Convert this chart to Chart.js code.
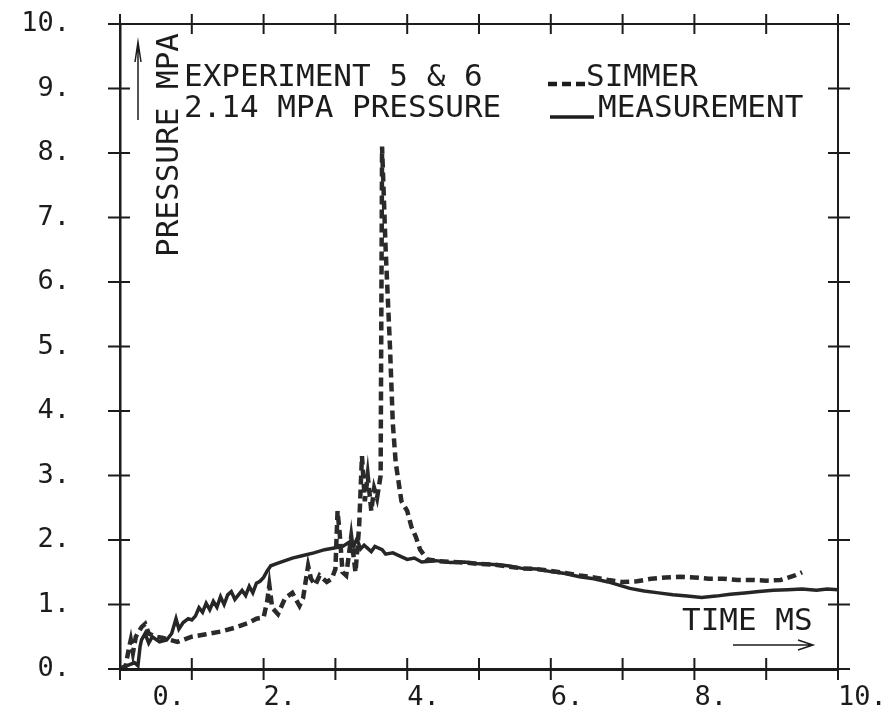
<!DOCTYPE html>
<html>
<head>
<meta charset="utf-8">
<script src="https://cdn.jsdelivr.net/npm/chart.js@4.4.0/dist/chart.umd.min.js"></script>
<style>
  html, body { margin: 0; padding: 0; background: #fff; }
  #wrap { width: 889px; height: 715px; }
</style>
</head>
<body>
<div id="wrap"><canvas id="plot" width="889" height="715"></canvas></div>
<script>
// measurement (solid)
var measTime = [0.00, 0.10, 0.20, 0.25, 0.28, 0.30, 0.35, 0.40, 0.45, 0.55, 0.65, 0.72, 0.78, 0.82, 0.88, 0.95,
  1.00, 1.05, 1.10, 1.15, 1.20, 1.25, 1.30, 1.35, 1.40, 1.45, 1.50, 1.55, 1.60, 1.70, 1.75, 1.80, 1.85, 1.90,
  1.95, 2.00, 2.05, 2.10, 2.20, 2.30, 2.40, 2.55, 2.70, 2.85, 3.00, 3.10, 3.20, 3.25, 3.30, 3.35, 3.40, 3.50,
  3.55, 3.65, 3.70, 3.80, 3.90, 4.00, 4.10, 4.20, 4.40, 4.60, 4.80, 5.00, 5.20, 5.40, 5.60, 5.80, 6.00, 6.20,
  6.40, 6.60, 6.80, 6.95, 7.10, 7.30, 7.50, 7.70, 7.90, 8.10, 8.30, 8.50, 8.70, 8.90, 9.10, 9.30, 9.50, 9.70,
  9.85, 10.0];
var measPressure = [0.00, 0.05, 0.10, 0.05, 0.35, 0.45, 0.55, 0.40, 0.50, 0.42, 0.45, 0.55, 0.78, 0.62, 0.72, 0.78,
  0.76, 0.82, 0.95, 0.88, 1.02, 0.92, 1.05, 0.96, 1.12, 1.00, 1.15, 1.20, 1.08, 1.22, 1.14, 1.28, 1.18, 1.33,
  1.36, 1.42, 1.52, 1.60, 1.64, 1.68, 1.72, 1.76, 1.80, 1.85, 1.88, 1.90, 1.97, 1.90, 2.02, 1.86, 1.92, 1.82,
  1.90, 1.85, 1.78, 1.80, 1.75, 1.70, 1.72, 1.66, 1.68, 1.65, 1.66, 1.63, 1.62, 1.60, 1.56, 1.55, 1.51, 1.48,
  1.43, 1.40, 1.35, 1.30, 1.25, 1.21, 1.18, 1.15, 1.13, 1.11, 1.13, 1.16, 1.18, 1.20, 1.22, 1.23, 1.24, 1.22,
  1.24, 1.23];

// SIMMER calculation (dashed)
var simTime = [0.00, 0.08, 0.12, 0.15, 0.18, 0.22, 0.30, 0.35, 0.40, 0.50, 0.60, 0.70, 0.80, 0.90, 1.00, 1.10,
  1.20, 1.40, 1.60, 1.80, 1.90, 2.00, 2.05, 2.08, 2.12, 2.20, 2.30, 2.40, 2.50, 2.55, 2.62, 2.66, 2.72, 2.78,
  2.88, 2.95, 3.00, 3.03, 3.06, 3.10, 3.15, 3.22, 3.28, 3.33, 3.37, 3.41, 3.45, 3.50, 3.54, 3.58, 3.63, 3.65,
  3.70, 3.76, 3.80, 3.84, 3.92, 4.00, 4.06, 4.12, 4.18, 4.28, 4.45, 4.60, 4.80, 5.00, 5.20, 5.40, 5.60, 5.80,
  6.00, 6.20, 6.40, 6.60, 6.80, 7.00, 7.20, 7.40, 7.60, 7.80, 8.00, 8.20, 8.40, 8.60, 8.80, 9.00, 9.20, 9.40,
  9.50];
var simPressure = [0.00, 0.05, 0.30, 0.45, 0.25, 0.50, 0.65, 0.70, 0.55, 0.50, 0.48, 0.45, 0.42, 0.46, 0.50, 0.52,
  0.54, 0.58, 0.64, 0.72, 0.78, 0.80, 1.05, 1.30, 0.95, 0.85, 1.10, 1.18, 0.98, 1.10, 1.60, 1.40, 1.30, 1.45,
  1.35, 1.40, 1.55, 2.45, 2.10, 1.50, 1.45, 2.05, 1.50, 2.20, 3.30, 2.60, 3.00, 2.45, 2.80, 2.65, 3.00, 8.10,
  6.50, 5.00, 3.80, 3.20, 2.60, 2.45, 2.20, 2.05, 1.85, 1.70, 1.67, 1.66, 1.65, 1.63, 1.62, 1.59, 1.56, 1.55,
  1.52, 1.49, 1.45, 1.42, 1.38, 1.35, 1.36, 1.40, 1.42, 1.43, 1.42, 1.40, 1.40, 1.38, 1.38, 1.37, 1.38, 1.45,
  1.50];

var xTicks = [0, 1, 2, 3, 4, 5, 6, 7, 8, 9, 10];
var xLabels = [0, 2, 4, 6, 8, 10];
var yTicks = [0, 1, 2, 3, 4, 5, 6, 7, 8, 9, 10];
var noteLines = ['EXPERIMENT 5 & 6', '2.14 MPA PRESSURE'];
var seriesNames = ['SIMMER', 'MEASUREMENT'];
var yTitle = 'PRESSURE MPA';
var xTitle = 'TIME MS';

var ink = '#1c1c1c';
var mono = '"DejaVu Sans Mono", "Liberation Mono", monospace';

function pairs(xs, ys) {
  var out = [];
  for (var i = 0; i < xs.length; i++) {
    out.push({x: xs[i], y: ys[i]});
  }
  return out;
}

// tick marks that cross the frame, texts and arrows inside the plot
var plotNotes = {
  id: 'plotNotes',
  afterDraw: function(chart) {
    var ctx = chart.ctx;
    var a = chart.chartArea;
    var sx = chart.scales.x, sy = chart.scales.y;
    ctx.save();
    ctx.strokeStyle = ink;
    ctx.fillStyle = ink;
    ctx.lineWidth = 2;
    ctx.beginPath();
    xTicks.forEach(function(v) {
      var px = sx.getPixelForValue(v);
      ctx.moveTo(px, a.bottom - 11); ctx.lineTo(px, a.bottom + 11);
      ctx.moveTo(px, a.top - 10); ctx.lineTo(px, a.top + 10);
    });
    yTicks.forEach(function(v) {
      var py = sy.getPixelForValue(v);
      ctx.moveTo(a.left - 12, py); ctx.lineTo(a.left + 10, py);
      ctx.moveTo(a.right - 10, py); ctx.lineTo(a.right + 12, py);
    });
    ctx.stroke();

    // note text
    ctx.font = '31px ' + mono;
    ctx.textAlign = 'left';
    ctx.textBaseline = 'alphabetic';
    ctx.fillText(noteLines[0], a.left + 64, a.top + 62);
    ctx.fillText(noteLines[1], a.left + 64, a.top + 93);
    ctx.fillText(seriesNames[0], a.left + 466, a.top + 62);
    ctx.fillText(seriesNames[1], a.left + 478, a.top + 93);

    // legend samples, styled like the datasets
    var dsSim = chart.data.datasets[0], dsMeas = chart.data.datasets[1];
    ctx.lineWidth = dsSim.borderWidth;
    ctx.setLineDash(dsSim.borderDash);
    ctx.beginPath();
    ctx.moveTo(a.left + 428, a.top + 60); ctx.lineTo(a.left + 465, a.top + 60);
    ctx.stroke();
    ctx.setLineDash([]);
    ctx.lineWidth = dsMeas.borderWidth;
    ctx.beginPath();
    ctx.moveTo(a.left + 430, a.top + 93); ctx.lineTo(a.left + 474, a.top + 93);
    ctx.stroke();

    // y title, rotated, with arrow
    ctx.save();
    ctx.translate(a.left + 58, a.top + 233);
    ctx.rotate(-Math.PI / 2);
    ctx.fillText(yTitle, 0, 0);
    ctx.restore();
    ctx.lineWidth = 1.5;
    ctx.beginPath();
    ctx.moveTo(a.left + 18, a.top + 96); ctx.lineTo(a.left + 18, a.top + 18);
    ctx.moveTo(a.left + 15, a.top + 38); ctx.lineTo(a.left + 18, a.top + 18); ctx.lineTo(a.left + 21, a.top + 38);
    ctx.stroke();

    // x title with arrow
    ctx.fillText(xTitle, a.right - 156, a.bottom - 39);
    ctx.beginPath();
    ctx.moveTo(a.right - 105, a.bottom - 24); ctx.lineTo(a.right - 25, a.bottom - 24);
    ctx.moveTo(a.right - 40, a.bottom - 29); ctx.lineTo(a.right - 25, a.bottom - 24); ctx.lineTo(a.right - 40, a.bottom - 19);
    ctx.stroke();
    ctx.restore();
  }
};

var tickFont = {family: 'DejaVu Sans Mono', size: 27};

new Chart(document.getElementById('plot'), {
  type: 'line',
  data: {
    datasets: [{
      label: seriesNames[0],
      data: pairs(simTime, simPressure),
      borderColor: '#2a2a2a',
      borderWidth: 4.5,
      borderDash: [9, 5],
      pointRadius: 0,
      tension: 0,
      fill: false
    }, {
      label: seriesNames[1],
      data: pairs(measTime, measPressure),
      borderColor: '#262626',
      borderWidth: 3.5,
      pointRadius: 0,
      tension: 0,
      fill: false
    }]
  },
  options: {
    responsive: false,
    animation: false,
    devicePixelRatio: 1,
    layout: {padding: 0},
    plugins: {
      legend: {display: false},
      tooltip: {enabled: false}
    },
    scales: {
      x: {
        type: 'linear',
        position: 'bottom',
        min: 0,
        max: 10,
        afterBuildTicks: function(s) { s.ticks = xLabels.map(function(v) { return {value: v}; }); },
        afterFit: function(s) { s.height = 46; s.paddingLeft = 0; s.paddingRight = 0; },
        grid: {display: false, drawTicks: false, tickLength: 0},
        border: {display: true, color: ink, width: 3},
        ticks: {
          autoSkip: false,
          maxRotation: 0,
          align: 'start',
          padding: 13,
          color: ink,
          font: tickFont,
          callback: function(v) { return v === 0 ? '  0.' : v + '.'; }
        }
      },
      xTop: {
        type: 'linear',
        position: 'top',
        min: 0,
        max: 10,
        afterFit: function(s) { s.height = 24; s.paddingLeft = 0; s.paddingRight = 0; },
        grid: {display: false, drawTicks: false, tickLength: 0},
        border: {display: true, color: ink, width: 2},
        ticks: {display: false}
      },
      y: {
        type: 'linear',
        position: 'left',
        min: 0,
        max: 10,
        afterBuildTicks: function(s) { s.ticks = yTicks.map(function(v) { return {value: v}; }); },
        afterFit: function(s) { s.width = 120; s.paddingTop = 0; s.paddingBottom = 0; },
        grid: {display: false, drawTicks: false, tickLength: 0},
        border: {display: true, color: ink, width: 2.5},
        ticks: {
          padding: 50,
          color: ink,
          font: tickFont,
          callback: function(v) { return v + '.'; }
        }
      },
      yRight: {
        type: 'linear',
        position: 'right',
        min: 0,
        max: 10,
        afterFit: function(s) { s.width = 51; s.paddingTop = 0; s.paddingBottom = 0; },
        grid: {display: false, drawTicks: false, tickLength: 0},
        border: {display: true, color: ink, width: 2},
        ticks: {display: false}
      }
    }
  },
  plugins: [plotNotes]
});
</script>
</body>
</html>
